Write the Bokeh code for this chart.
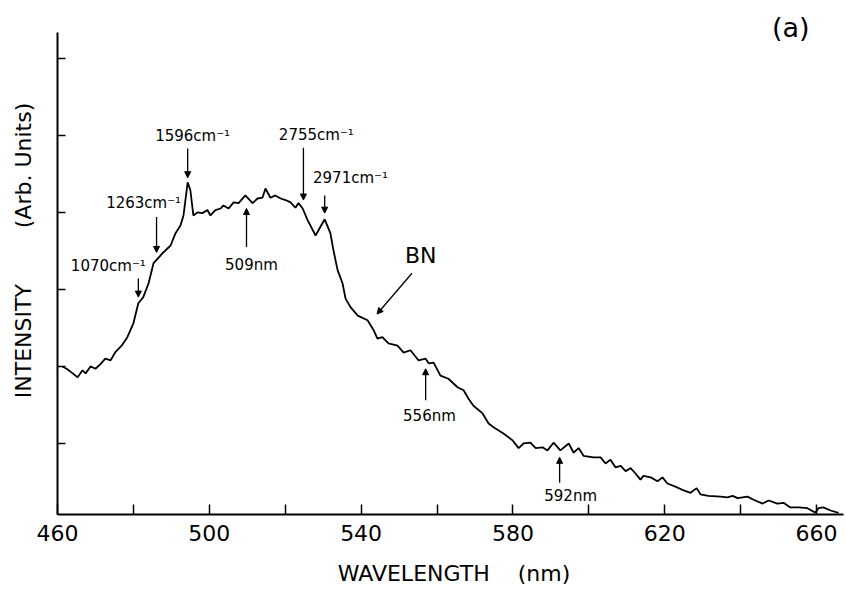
from bokeh.plotting import figure
from bokeh.models import Range1d, FixedTicker, Label, Arrow, NormalHead
from bokeh.embed import file_html
from bokeh.resources import INLINE

# ---- data ----
wavelength_nm = [461.3, 462.4, 464.0, 465.3, 466.6, 467.4, 468.7, 470.0, 471.3, 472.6,
                 474.0, 475.3, 476.9, 478.4, 480.0, 481.3, 482.6, 484.0, 485.3, 486.4,
                 487.7, 489.8, 491.1, 492.4, 493.2, 494.3, 495.0, 495.8, 496.9, 498.2,
                 499.5, 500.3, 501.6, 503.0, 503.7, 505.1, 506.4, 507.7, 509.5, 511.4,
                 512.7, 514.0, 514.8, 516.1, 517.4, 518.8, 520.1, 521.4, 522.7, 523.5,
                 524.6, 525.9, 528.0, 530.4, 531.9, 532.7, 533.8, 535.1, 535.9, 537.2,
                 539.1, 541.7, 543.3, 544.3, 545.6, 547.2, 549.6, 551.2, 553.0, 555.1,
                 557.0, 557.8, 559.1, 560.9, 563.0, 565.4, 567.0, 568.3, 569.6, 572.0,
                 573.6, 574.9, 577.5, 579.9, 581.5, 582.8, 584.6, 586.0, 587.8, 589.1,
                 590.7, 592.5, 594.7, 596.0, 597.3, 598.6, 601.2, 603.1, 604.4, 605.7,
                 607.0, 608.4, 609.7, 611.0, 612.3, 613.6, 614.4, 616.3, 618.1, 619.4,
                 620.7, 622.8, 625.0, 626.8, 628.4, 629.4, 631.5, 634.7, 636.5, 637.9,
                 639.2, 640.5, 641.8, 643.4, 645.8, 647.4, 649.7, 651.3, 653.1, 655.3,
                 657.6, 659.7, 660.5, 661.8, 663.7, 665.8]
intensity = [2.00, 1.97, 1.91, 1.86, 1.95, 1.91, 2.00, 1.97, 2.03, 2.10,
             2.08, 2.19, 2.27, 2.38, 2.56, 2.82, 2.90, 3.08, 3.34, 3.40,
             3.47, 3.57, 3.73, 3.83, 3.96, 4.39, 4.29, 3.96, 4.00, 3.99,
             4.03, 3.96, 4.03, 4.05, 4.09, 4.05, 4.13, 4.12, 4.22, 4.12,
             4.18, 4.19, 4.31, 4.19, 4.22, 4.18, 4.16, 4.13, 4.06, 4.12,
             4.05, 3.90, 3.70, 3.91, 3.73, 3.51, 3.25, 3.08, 2.88, 2.77,
             2.66, 2.60, 2.47, 2.36, 2.38, 2.30, 2.27, 2.18, 2.21, 2.08,
             2.10, 2.04, 2.05, 1.88, 1.84, 1.73, 1.69, 1.58, 1.49, 1.39,
             1.26, 1.21, 1.13, 1.04, 0.94, 1.00, 1.01, 0.94, 0.95, 0.91,
             1.01, 0.91, 1.00, 0.88, 0.94, 0.84, 0.82, 0.82, 0.74, 0.79,
             0.69, 0.71, 0.64, 0.68, 0.61, 0.53, 0.58, 0.56, 0.51, 0.56,
             0.48, 0.44, 0.39, 0.36, 0.42, 0.34, 0.32, 0.31, 0.30, 0.32,
             0.29, 0.30, 0.31, 0.27, 0.22, 0.26, 0.22, 0.23, 0.17, 0.17,
             0.16, 0.10, 0.16, 0.17, 0.13, 0.10]

x_label_ticks = [460, 500, 540, 580, 620, 660]
x_minor_ticks = [480, 520, 560, 600, 640]
y_ticks = [1, 2, 3, 4, 5, 6]

# annotations: text, label x, label y, arrow x_start, y_start, x_end, y_end
ann_text = ["1070cm\u207b\u00b9", "1263cm\u207b\u00b9", "1596cm\u207b\u00b9", "509nm",
            "2755cm\u207b\u00b9", "2971cm\u207b\u00b9", "BN", "556nm", "592nm"]
ann_lx = [473.4, 482.7, 495.6, 511.1, 528.2, 537.2, 555.7, 558.0, 595.2]
ann_ly = [3.30, 4.12, 4.99, 3.32, 5.01, 4.44, 3.44, 1.36, 0.32]
ann_size = ["15px", "15px", "15px", "15px", "15px", "15px", "22px", "15px", "15px"]
arr_x0 = [481.3, 486.1, 494.3, 509.8, 524.8, 530.4, 553.4, 557.0, 592.3]
arr_y0 = [3.14, 3.94, 4.83, 3.55, 4.84, 4.22, 3.21, 1.56, 0.49]
arr_x1 = [481.3, 486.1, 494.3, 509.8, 524.8, 530.4, 544.2, 557.0, 592.3]
arr_y1 = [2.90, 3.48, 4.45, 4.05, 4.16, 3.99, 2.68, 1.97, 0.82]

FONT = "DejaVu Sans"
NB = "\u00a0"

p = figure(width=846, height=592, output_backend="svg", toolbar_location=None,
           x_range=Range1d(460, 667.1), y_range=Range1d(0.078, 6.75),
           min_border_left=57, min_border_right=3, min_border_top=0, min_border_bottom=78)
p.outline_line_color = None
p.xgrid.visible = False
p.ygrid.visible = False
p.background_fill_color = "white"
p.border_fill_color = "white"

p.line(wavelength_nm, intensity, line_color="black", line_width=1.8)

xa = p.xaxis[0]
xa.ticker = FixedTicker(ticks=x_label_ticks, minor_ticks=x_minor_ticks)
xa.axis_line_width = 2
xa.axis_line_color = "black"
xa.major_tick_in = 10
xa.major_tick_out = 0
xa.minor_tick_in = 10
xa.minor_tick_out = 0
xa.major_tick_line_width = 1.5
xa.minor_tick_line_width = 1.5
xa.major_tick_line_color = "black"
xa.minor_tick_line_color = "black"
xa.major_label_text_font = FONT
xa.major_label_text_font_size = "22px"
xa.major_label_text_color = "black"
xa.major_label_standoff = 10
xa.axis_label = NB + "WAVELENGTH" + NB * 4 + "(nm)"
xa.axis_label_text_font = FONT
xa.axis_label_text_font_size = "22px"
xa.axis_label_text_font_style = "normal"
xa.axis_label_text_color = "black"
xa.axis_label_standoff = 17

ya = p.yaxis[0]
ya.ticker = FixedTicker(ticks=y_ticks)
ya.bounds = (0.078, 6.34)
ya.axis_line_width = 2
ya.axis_line_color = "black"
ya.major_tick_in = 8
ya.major_tick_out = 0
ya.minor_tick_line_color = None
ya.major_tick_line_width = 1.5
ya.major_tick_line_color = "black"
ya.major_label_overrides = {t: "" for t in y_ticks}
ya.axis_label = NB * 2 + "INTENSITY" + NB * 8 + "(Arb." + NB + "Units)"
ya.axis_label_text_font = FONT
ya.axis_label_text_font_size = "22px"
ya.axis_label_text_font_style = "normal"
ya.axis_label_text_color = "black"
ya.axis_label_standoff = 22

for t, lx, ly, fs in zip(ann_text, ann_lx, ann_ly, ann_size):
    p.add_layout(Label(x=lx, y=ly, text=t, text_align="center", text_baseline="middle",
                       text_font=FONT, text_font_size=fs, text_color="black"))

for x0, y0, x1, y1 in zip(arr_x0, arr_y0, arr_x1, arr_y1):
    p.add_layout(Arrow(x_start=x0, y_start=y0, x_end=x1, y_end=y1,
                       line_color="black", line_width=1.3,
                       end=NormalHead(size=6, fill_color="black", line_color="black")))

p.add_layout(Label(x=653.2, y=6.40, text="(a)", text_align="center", text_baseline="middle",
                   text_font=FONT, text_font_size="27px", text_color="black"))

open("out.html", "w").write(file_html(p, INLINE))
